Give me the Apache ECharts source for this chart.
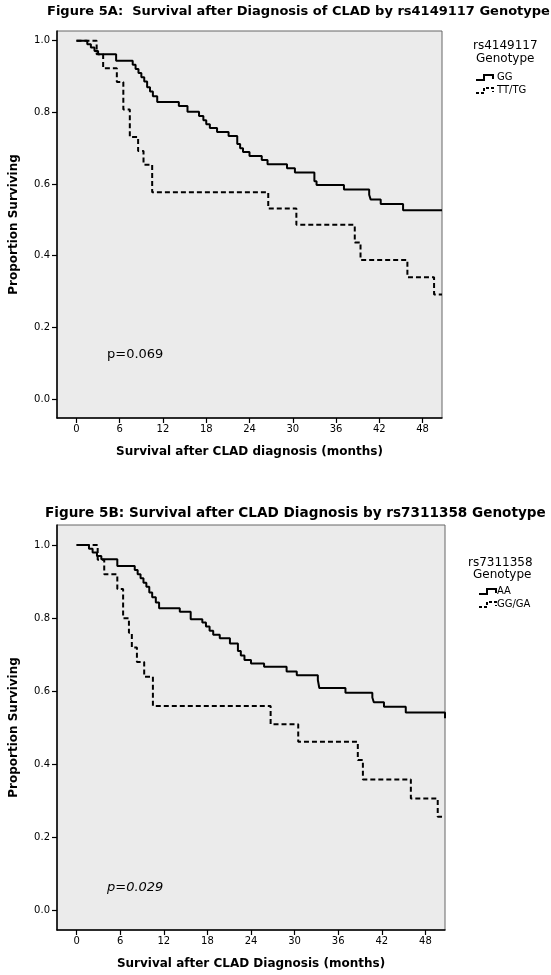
<!DOCTYPE html>
<html>
<head>
<meta charset="utf-8">
<script src="https://cdn.jsdelivr.net/npm/echarts@6/dist/echarts.min.js"></script>
<style>
html,body{margin:0;padding:0;background:#fff;}
#chart{width:551px;height:975px;}
</style>
</head>
<body>
<div id="chart"></div>
<script>
// ---------- DATA ----------
const xTicks = [0, 6, 12, 18, 24, 30, 36, 42, 48];
const yTicks = [0, 0.2, 0.4, 0.6, 0.8, 1.0];

// Figure 5A – GG (solid)
const tA_GG = [0, 1.5, 2.0, 2.5, 3.0, 5.5, 7.8, 8.2, 8.6, 9.0, 9.4, 9.8, 10.2, 10.6, 11.2, 14.2, 15.4, 17.0, 17.6, 18.0, 18.5, 19.5, 21.1, 22.3, 22.7, 23.1, 24.0, 25.7, 26.5, 29.2, 30.3, 33.0, 33.3, 37.1, 40.6, 40.8, 42.2, 45.3, 50.7];
const sA_GG = [1.0, 0.990, 0.981, 0.971, 0.962, 0.944, 0.933, 0.921, 0.910, 0.898, 0.886, 0.870, 0.858, 0.845, 0.829, 0.818, 0.802, 0.790, 0.778, 0.767, 0.756, 0.745, 0.734, 0.712, 0.700, 0.689, 0.678, 0.667, 0.655, 0.644, 0.632, 0.608, 0.597, 0.585, 0.570, 0.557, 0.544, 0.527, 0.527];
// Figure 5A – TT/TG (dashed)
const tA_TT = [0, 2.8, 3.7, 5.6, 6.5, 7.4, 8.55, 9.3, 10.5, 26.6, 30.5, 38.6, 39.4, 45.9, 49.6, 50.7];
const sA_TT = [1.0, 0.962, 0.923, 0.885, 0.808, 0.731, 0.692, 0.654, 0.577, 0.532, 0.486, 0.437, 0.388, 0.340, 0.292, 0.292];

// Figure 5B – AA (solid)
const tB_AA = [0, 1.7, 2.2, 2.8, 3.4, 5.6, 8.0, 8.4, 8.8, 9.2, 9.6, 10.0, 10.4, 10.9, 11.35, 14.2, 15.7, 17.3, 17.8, 18.3, 18.8, 19.7, 21.1, 22.2, 22.6, 23.1, 24.0, 25.8, 28.9, 30.3, 33.2, 33.4, 37.0, 40.7, 40.9, 42.3, 45.3, 50.7];
const sB_AA = [1.0, 0.990, 0.980, 0.970, 0.961, 0.943, 0.932, 0.920, 0.909, 0.897, 0.886, 0.870, 0.857, 0.843, 0.827, 0.818, 0.797, 0.788, 0.777, 0.766, 0.755, 0.745, 0.731, 0.710, 0.698, 0.686, 0.676, 0.667, 0.654, 0.644, 0.631, 0.609, 0.596, 0.583, 0.570, 0.558, 0.542, 0.526, 0.526];
// Figure 5B – GG/GA (dashed)
const tB_GG = [0, 2.9, 3.8, 5.6, 6.4, 7.2, 7.6, 8.3, 9.3, 10.5, 26.7, 30.5, 38.7, 39.4, 46.0, 49.7, 50.7];
const sB_GG = [1.0, 0.96, 0.92, 0.88, 0.80, 0.76, 0.72, 0.68, 0.64, 0.56, 0.51, 0.462, 0.412, 0.359, 0.307, 0.257, 0.257];

const pair = (t, s) => t.map((v, i) => [v, s[i]]);

// ---------- CHART ----------
const chart = echarts.init(document.getElementById('chart'), null, {renderer: 'canvas'});
const FONT = 'DejaVu Sans';

function xAxisCfg(gridIndex, name) {
  return {
    type: 'value', gridIndex, min: -2.7, max: 50.7,
    name, nameLocation: 'middle', nameGap: 28,
    nameTextStyle: {fontFamily: FONT, fontWeight: 'bold', fontSize: 12, color: '#000'},
    axisLine: {show: true, onZero: false, lineStyle: {color: '#000', width: 1.5}},
    axisTick: {show: true, inside: false, length: 5, customValues: xTicks, lineStyle: {color: '#000', width: 1.2}},
    axisLabel: {customValues: xTicks, margin: 6, fontFamily: FONT, fontSize: 10, color: '#000'},
    splitLine: {show: false}
  };
}
function yAxisCfg(gridIndex, max) {
  return {
    type: 'value', gridIndex, min: -0.053, max,
    name: 'Proportion Surviving', nameLocation: 'middle', nameGap: 37,
    nameTextStyle: {fontFamily: FONT, fontWeight: 'bold', fontSize: 12, color: '#000'},
    axisLine: {show: true, onZero: false, lineStyle: {color: '#000', width: 1.5}},
    axisTick: {show: true, inside: false, length: 5, customValues: yTicks, lineStyle: {color: '#000', width: 1.2}},
    axisLabel: {customValues: yTicks, margin: 7, fontFamily: FONT, fontSize: 10, color: '#000',
      formatter: v => v.toFixed(1)},
    splitLine: {show: false}
  };
}
function km(name, xi, data, dashed) {
  return {
    name, type: 'line', xAxisIndex: xi, yAxisIndex: xi, step: 'end',
    data, showSymbol: false, symbol: 'none', animation: false,
    lineStyle: {color: '#000', width: 2, type: dashed ? [5, 3] : 'solid'}
  };
}

function legendIcon(x, y, dashed) {
  return {
    type: 'polyline',
    shape: {points: [[x, y + 3], [x + 8, y + 3], [x + 8, y - 2], [x + 17, y - 2], [x + 17, y + 2]]},
    style: {stroke: '#000', lineWidth: 2, fill: null, lineDash: dashed ? [3, 2] : null}
  };
}
function txt(x, y, text, opts) {
  return {type: 'text', x, y, style: Object.assign({text, fill: '#000', font: '12px "' + FONT + '"', textVerticalAlign: 'middle'}, opts || {})};
}

const option = {
  backgroundColor: '#fff',
  animation: false,
  title: [
    {text: 'Figure 5A:  Survival after Diagnosis of CLAD by rs4149117 Genotype', left: 47, top: 5, padding: 0,
      textStyle: {fontFamily: FONT, fontWeight: 'bold', fontSize: 13, color: '#000'}},
    {text: 'Figure 5B: Survival after CLAD Diagnosis by rs7311358 Genotype', left: 45, top: 506, padding: 0,
      textStyle: {fontFamily: FONT, fontWeight: 'bold', fontSize: 13.6, color: '#000'}}
  ],
  grid: [
    {left: 53, top: 31, width: 389, height: 387, show: true, backgroundColor: '#ebebeb', borderColor: '#666', borderWidth: 1},
    {left: 51, top: 525, width: 394, height: 405, show: true, backgroundColor: '#ebebeb', borderColor: '#666', borderWidth: 1}
  ],
  xAxis: [
    xAxisCfg(0, 'Survival after CLAD diagnosis (months)'),
    xAxisCfg(1, 'Survival after CLAD Diagnosis (months)')
  ],
  yAxis: [yAxisCfg(0, 1.027), yAxisCfg(1, 1.055)],
  series: [
    km('GG', 0, pair(tA_GG, sA_GG), false),
    km('TT/TG', 0, pair(tA_TT, sA_TT), true),
    km('AA', 1, pair(tB_AA, sB_AA), false),
    km('GG/GA', 1, pair(tB_GG, sB_GG), true)
  ],
  graphic: [
    txt(107, 355, 'p=0.069', {font: '13px "' + FONT + '"'}),
    txt(107, 888, 'p=0.029', {font: 'italic 13px "' + FONT + '"'}),
    txt(473, 46, 'rs4149117'),
    txt(476, 59, 'Genotype'),
    legendIcon(476, 77, false),
    txt(497, 77, 'GG', {font: '10px "' + FONT + '"'}),
    legendIcon(476, 90, true),
    txt(497, 90, 'TT/TG', {font: '10px "' + FONT + '"'}),
    txt(468, 563, 'rs7311358'),
    txt(473, 575, 'Genotype'),
    legendIcon(479, 591, false),
    txt(497, 591, 'AA', {font: '10px "' + FONT + '"'}),
    legendIcon(479, 604, true),
    txt(497, 604, 'GG/GA', {font: '10px "' + FONT + '"'})
  ]
};
chart.setOption(option);
</script>
</body>
</html>
